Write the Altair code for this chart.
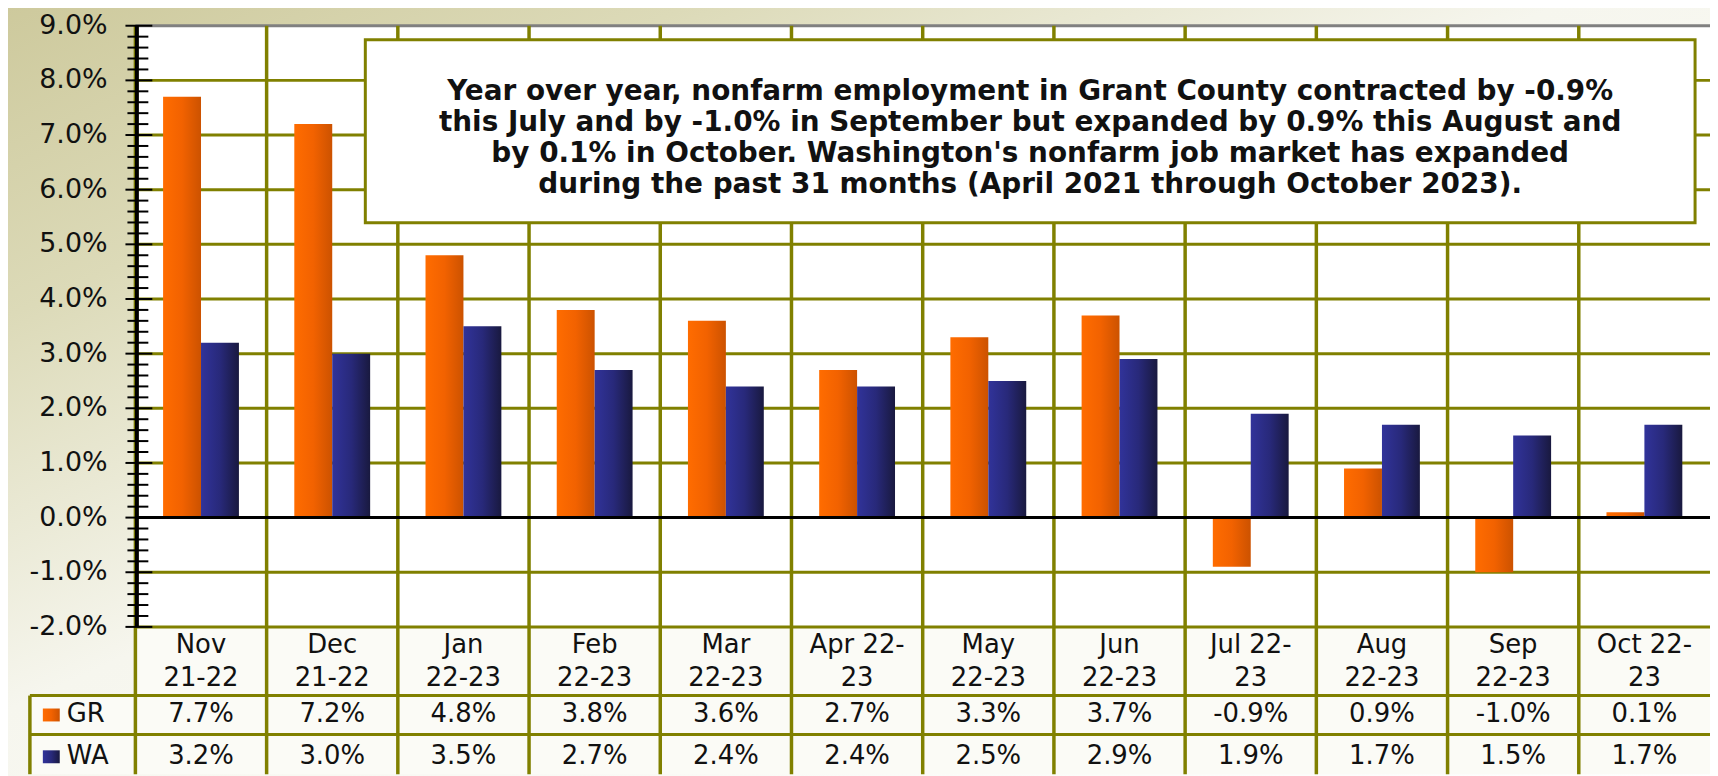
import altair as alt
import pandas as pd
import numpy as np

# ---------------- data ----------------
categories = ["Nov 21-22", "Dec 21-22", "Jan 22-23", "Feb 22-23", "Mar 22-23", "Apr 22-23",
              "May 22-23", "Jun 22-23", "Jul 22-23", "Aug 22-23", "Sep 22-23", "Oct 22-23"]
cat_labels = ["Nov\n21-22", "Dec\n21-22", "Jan\n22-23", "Feb\n22-23", "Mar\n22-23", "Apr 22-\n23",
              "May\n22-23", "Jun\n22-23", "Jul 22-\n23", "Aug\n22-23", "Sep\n22-23", "Oct 22-\n23"]
gr_values = [7.7, 7.2, 4.8, 3.8, 3.6, 2.7, 3.3, 3.7, -0.9, 0.9, -1.0, 0.1]
wa_values = [3.2, 3.0, 3.5, 2.7, 2.4, 2.4, 2.5, 2.9, 1.9, 1.7, 1.5, 1.7]
series_names = ["GR", "WA"]
y_ticks = [-2, -1, 0, 1, 2, 3, 4, 5, 6, 7, 8, 9]
note_lines = [
    "Year over year, nonfarm employment in Grant County contracted by -0.9%",
    "this July and by -1.0% in  September but expanded by 0.9% this August and",
    "by 0.1%  in October. Washington's nonfarm job market has expanded",
    "during the past 31 months (April 2021 through October 2023).",
]

# ---------------- layout constants ----------------
W = 1582          # plot width (px)
H = 752           # plot + table height (px)
PLOT_H = 604      # height of bar area
FONT = "DejaVu Sans"
TXT = "#111111"
OLIVE = "#808000"

long_df = pd.DataFrame({
    "cat": categories * 2,
    "series": ["GR"] * len(categories) + ["WA"] * len(categories),
    "value": gr_values + wa_values,
})
long_df["label"] = [f"{v:.1f}%" for v in long_df["value"]]
cat_df = pd.DataFrame({"cat": categories, "lab": cat_labels})
grid_df = pd.DataFrame({"v": [t for t in y_ticks if t != 9]})
top_df = pd.DataFrame({"v": [9]})
zero_df = pd.DataFrame({"v": [0]})
minor_vals = [round(x, 1) for x in np.arange(-2, 9.0001, 0.2) if abs(x - round(x)) > 1e-6]
minor_df = pd.DataFrame({"v": minor_vals})
major_df = pd.DataFrame({"v": y_ticks, "lab": [f"{t:.1f}%" for t in y_ticks]})
one = pd.DataFrame({"a": [0]})
leg_df = pd.DataFrame({"series": series_names})

xscale = alt.Scale(domain=categories, paddingInner=0, paddingOuter=0)
yscale = alt.Scale(domain=[-2, 9], range=[PLOT_H, 0], nice=False, zero=False)


def X(**kw):
    return alt.X("cat:N", scale=xscale, axis=None, **kw)


def Yv():
    return alt.Y("v:Q", scale=yscale, axis=None)


bg_grad = {"gradient": "linear", "x1": 0, "y1": 0, "x2": 1, "y2": 1,
           "stops": [{"offset": 0, "color": "#cdc99c"},
                     {"offset": 0.2, "color": "#dcdab8"},
                     {"offset": 0.45, "color": "#f6f6ee"},
                     {"offset": 1, "color": "#ffffff"}]}
gr_grad = {"gradient": "linear", "x1": 0, "y1": 0, "x2": 1, "y2": 0,
           "stops": [{"offset": 0, "color": "#ff6c00"},
                     {"offset": 0.5, "color": "#f26200"},
                     {"offset": 1, "color": "#cc5200"}]}
wa_grad = {"gradient": "linear", "x1": 0, "y1": 0, "x2": 1, "y2": 0,
           "stops": [{"offset": 0, "color": "#31339a"},
                     {"offset": 0.5, "color": "#28297a"},
                     {"offset": 1, "color": "#19193f"}]}

layers = []
# background
layers.append(alt.Chart(one).mark_rect(fill=bg_grad).encode(
    x=alt.value(-140), x2=alt.value(W + 20), y=alt.value(-20), y2=alt.value(H + 20)))
# white plot area
layers.append(alt.Chart(one).mark_rect(fill="#ffffff").encode(
    x=alt.value(0), x2=alt.value(W), y=alt.value(0), y2=alt.value(PLOT_H)))
# table backgrounds
layers.append(alt.Chart(one).mark_rect(fill="#fbfbf6").encode(
    x=alt.value(0), x2=alt.value(W), y=alt.value(PLOT_H), y2=alt.value(H)))
layers.append(alt.Chart(one).mark_rect(fill="#fbfbf6").encode(
    x=alt.value(-106), x2=alt.value(0), y=alt.value(673), y2=alt.value(H)))
# horizontal gridlines
layers.append(alt.Chart(grid_df).mark_rule(color=OLIVE, strokeWidth=3).encode(
    y=Yv(), x=alt.value(0), x2=alt.value(W)))
layers.append(alt.Chart(top_df).mark_rule(color="#808080", strokeWidth=3).encode(
    y=Yv(), x=alt.value(0), x2=alt.value(W)))
# vertical gridlines (column boundaries, through the table)
layers.append(alt.Chart(cat_df).mark_rule(color=OLIVE, strokeWidth=3.5).encode(
    x=X(bandPosition=0), y=alt.value(0), y2=alt.value(H)))
# bars
for s, grad in (("GR", gr_grad), ("WA", wa_grad)):
    layers.append(alt.Chart(long_df).transform_filter(alt.datum.series == s).mark_bar(
        color=grad).encode(
        x=X(),
        xOffset=alt.XOffset("series:N", scale=alt.Scale(domain=series_names, paddingInner=0,
                                                         paddingOuter=0.73)),
        y=alt.Y("value:Q", scale=yscale, title=None, axis=None),
        y2=alt.datum(0)))
# zero line
layers.append(alt.Chart(zero_df).mark_rule(color="#000000", strokeWidth=3).encode(
    y=Yv(), x=alt.value(0), x2=alt.value(W)))
# y axis line, ticks and labels
layers.append(alt.Chart(one).mark_rule(color="#000000", strokeWidth=4).encode(
    x=alt.value(1.5), y=alt.value(0), y2=alt.value(PLOT_H)))
layers.append(alt.Chart(minor_df).mark_rule(color="#000000", strokeWidth=2).encode(
    y=Yv(), x=alt.value(-8), x2=alt.value(13)))
layers.append(alt.Chart(major_df).mark_rule(color="#000000", strokeWidth=2).encode(
    y=Yv(), x=alt.value(-10), x2=alt.value(17)))
layers.append(alt.Chart(major_df).mark_text(font=FONT, fontSize=27, color=TXT, align="right",
                                            baseline="middle").encode(
    y=Yv(), x=alt.value(-28), text="lab:N"))
# table lines
for yy in (673, 712):
    layers.append(alt.Chart(one).mark_rule(color=OLIVE, strokeWidth=3).encode(
        x=alt.value(-106), x2=alt.value(W), y=alt.value(yy)))
layers.append(alt.Chart(one).mark_rule(color=OLIVE, strokeWidth=3.5).encode(
    x=alt.value(-106), y=alt.value(673), y2=alt.value(H)))
# table text: categories
layers.append(alt.Chart(cat_df).mark_text(font=FONT, fontSize=26, color=TXT, lineBreak="\n",
                                          lineHeight=33, baseline="alphabetic").encode(
    x=X(), y=alt.value(630), text="lab:N"))
# table values
for s, yy in (("GR", 700), ("WA", 742)):
    layers.append(alt.Chart(long_df).transform_filter(alt.datum.series == s).mark_text(
        font=FONT, fontSize=26, color=TXT, baseline="alphabetic").encode(
        x=X(), y=alt.value(yy), text="label:N"))
# legend cells
for s, grad, y0, yy in (("GR", gr_grad, 686, 700), ("WA", wa_grad, 728, 742)):
    sub = leg_df[leg_df.series == s]
    layers.append(alt.Chart(sub).mark_rect(fill=grad).encode(
        x=alt.value(-93), x2=alt.value(-76), y=alt.value(y0), y2=alt.value(y0 + 13)))
    layers.append(alt.Chart(sub).mark_text(font=FONT, fontSize=26, color=TXT, align="left",
                                           baseline="alphabetic").encode(
        x=alt.value(-69), y=alt.value(yy), text="series:N"))
# annotation box
layers.append(alt.Chart(one).mark_rect(fill="#ffffff", stroke=OLIVE, strokeWidth=3).encode(
    x=alt.value(231), x2=alt.value(1567), y=alt.value(14), y2=alt.value(198)))
layers.append(alt.Chart(one).mark_text(font=FONT, fontSize=28, fontWeight="bold", color=TXT,
                                       align="center", baseline="alphabetic",
                                       lineHeight=31).encode(
    x=alt.value(899), y=alt.value(75), text=alt.value(note_lines)))

chart = alt.layer(*layers).properties(
    width=W, height=H,
    autosize=alt.AutoSizeParams(type="none"),
    padding={"left": 128, "top": 16, "right": 0, "bottom": 0},
).configure_view(strokeWidth=0)

chart.save("out.html", embed_options={"renderer": "svg", "actions": False})
